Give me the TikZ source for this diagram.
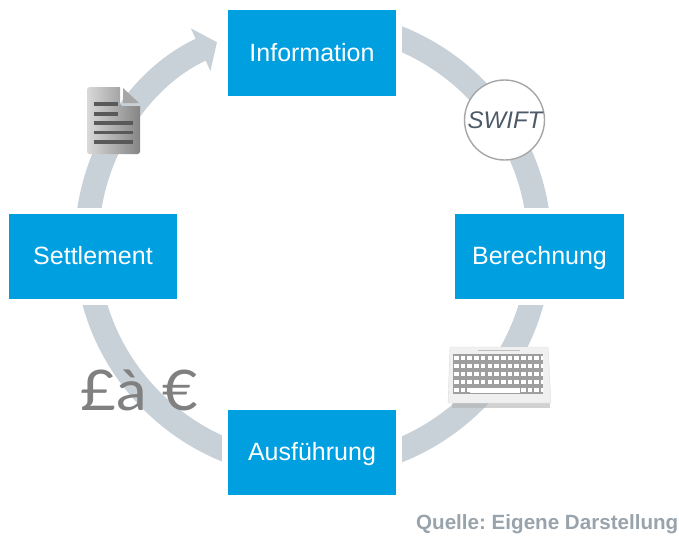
\documentclass[tikz,border=0pt]{standalone}
\usepackage{fontspec}
\setmainfont{Liberation Sans}
\newfontfamily\fxfont{Lato}
\usetikzlibrary{arrows.meta,backgrounds}
\definecolor{ringgray}{HTML}{C8D1D8}
\definecolor{boxblue}{HTML}{009FE0}
\definecolor{swiftink}{HTML}{4D5A68}
\definecolor{sourcegray}{HTML}{98A3AB}
\tikzset{
  stagebox/.style={fill=boxblue,text=white,minimum width=168pt,minimum height=85pt,inner sep=0pt,
    text height=18pt,text depth=2pt,font=\fontsize{25}{30}\selectfont,preaction={draw=white,line width=12pt}},
  ringline/.style={draw=ringgray,line width=24pt},
  keyrow/.style={draw=white,line width=4.8pt,dash pattern=on 4.6pt off 2.1pt}
}

\begin{document}
\begin{tikzpicture}[x=1pt,y=-1pt]
  \useasboundingbox (0,0) rectangle (679,535);

  \node[stagebox] (info) at (312,53) {Information};
  \node[stagebox,minimum width=169pt] (bere) at (539.5,256.5) {Berechnung};
  \node[stagebox] (ausf) at (312,452.5) {Ausführung};
  \node[stagebox] (sett) at (93,256.5) {Settlement};

  \coordinate (ringtop) at (313,21.3);
  \coordinate (ringright) at (539.5,244.3);
  \coordinate (ringbottom) at (313,467.3);
  \coordinate (ringleft) at (86.5,244.3);
  \coordinate (ringtip) at (217,42.2);

  \begin{scope}[on background layer]
    \draw[ringline] (ringtop) .. controls +(125,0) and +(0,-123) .. (ringright);
    \draw[ringline] (ringright) .. controls +(0,123) and +(125,0) .. (ringbottom);
    \draw[ringline] (ringbottom) .. controls +(-125,0) and +(0,123) .. (ringleft);
    \draw[ringline,-{Triangle[length=18pt,width=46pt]}] (ringleft) .. controls +(0,-86.7) and +(-79.8,36.6) .. (ringtip);
  \end{scope}

  \node[circle,draw=black!35,line width=1.4pt,fill=white,minimum size=80pt,inner sep=0pt] (swift) at (504.5,120) {};
  \node[text=swiftink,font=\fontsize{24}{28}\selectfont\itshape] (swifttext) at (505,120.5) {SWIFT};

  % document
  \shade[left color=black!15,right color=black!48] (87,89) -- (87,152) -- (89,154) -- (138,154) -- (140,152) -- (140,106) -- (122,106) -- (120,104) -- (120,87) -- (89,87) -- cycle;
  \fill[black!35] (123,88) -- (139,103) -- (123,103) -- cycle;
  \foreach \y/\xend in {104/118,114/118,123/133,132.5/133,142/133}
    \draw[black!65,line width=3.2pt] (93.5,\y) -- (\xend,\y);

  % keyboard
  \fill[black!30,opacity=.6] (452,403) rectangle (550,408);
  \fill[black!6,draw=black!14] (450,347) -- (548,347) -- (551,403) -- (448,403) -- cycle;
  \fill[black!38] (453,354) rectangle (543,394);
  \foreach \y in {358,366,374,382,390}
    \draw[keyrow] (454,\y) -- (543,\y);
  \fill[white] (470,388) rectangle (520,392.5);
  \draw[black!25,line width=1.5pt] (478,350.5) -- (520,350.5);

  \node[text=black!50,font=\fontsize{56}{60}\fxfont,xscale=1.1] (fx) at (139.5,390) {£à €};
  \node[anchor=east,text=sourcegray,font=\fontsize{20.6}{24}\selectfont\bfseries\frenchspacing,inner sep=0pt] (source) at (678.5,524) {Quelle: Eigene Darstellung};
\end{tikzpicture}
\end{document}
